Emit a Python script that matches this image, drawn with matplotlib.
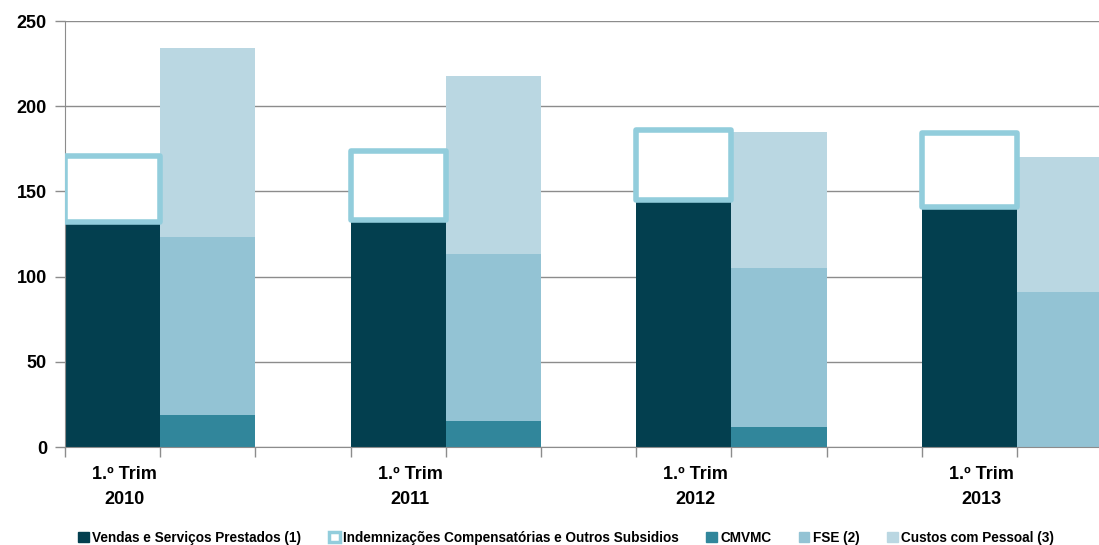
import numpy as np
import matplotlib
matplotlib.use('Agg')
import matplotlib.pyplot as plt
from matplotlib.patches import Patch
from matplotlib.transforms import blended_transform_factory

plt.rcParams['font.family'] = ['Liberation Sans Narrow', 'Liberation Sans', 'DejaVu Sans']
plt.rcParams['font.weight'] = 'bold'

trimestres = ['1.º Trim\n2010', '1.º Trim\n2011', '1.º Trim\n2012', '1.º Trim\n2013']
vendas = [132, 133, 145, 141]
indemnizacoes = [39, 41, 41, 43]
cmvmc = [19, 15, 12, 0]
fse = [104, 98, 93, 91]
pessoal = [111, 105, 80, 79]

c_vendas = '#033f4f'
c_indem = '#92cddc'
c_cmvmc = '#31869b'
c_fse = '#93c3d4'
c_pessoal = '#bad7e2'

fig = plt.figure(figsize=(10.99, 5.45), dpi=100)
W, H = 1099.0, 545.0
ax = fig.add_axes([65 / W, 98 / H, (W - 65) / W, 426 / H])

n = len(trimestres)
x1 = np.arange(n) * 3 + 0.5   # primeira coluna de cada trimestre
x2 = x1 + 1                    # segunda coluna (custos)

ax.bar(x1, vendas, width=1.0, color=c_vendas, zorder=2)
ax.bar(x2, cmvmc, width=1.0, color=c_cmvmc, zorder=2)
ax.bar(x2, fse, width=1.0, bottom=cmvmc, color=c_fse, zorder=2)
base = np.array(cmvmc) + np.array(fse)
ax.bar(x2, pessoal, width=1.0, bottom=base, color=c_pessoal, zorder=2)
ax.bar(x1, indemnizacoes, width=1.0, bottom=vendas, facecolor='white',
       edgecolor=c_indem, linewidth=4.0, joinstyle='round', zorder=3)

ax.set_xticks(np.arange(0, 12))
ax.set_xticklabels([])
ax.set_xlim(0, (W - 65) / 95.2)
ax.set_ylim(0, 250)
ax.set_yticks(np.arange(0, 251, 50))
ax.yaxis.grid(True, color='#8c8c8c', linewidth=1.0, zorder=0)
ax.set_axisbelow(True)

ax.tick_params(axis='x', length=7, color='#8c8c8c', width=1)
ax.tick_params(axis='y', length=7, color='#8c8c8c', width=1, labelsize=13, pad=6)
for lab in ax.get_yticklabels():
    lab.set_fontweight('bold')

for s in ['top', 'right']:
    ax.spines[s].set_visible(False)
ax.spines['left'].set_color('#8c8c8c')
ax.spines['bottom'].set_color('#8c8c8c')

trans = blended_transform_factory(ax.transData, ax.transAxes)
for i, t in enumerate(trimestres):
    ax.text(x1[i] + 0.125, -0.045, t, transform=trans, ha='center', va='top',
            fontsize=13, fontweight='bold', linespacing=1.6)

handles = [
    Patch(facecolor=c_vendas, edgecolor=c_vendas),
    Patch(facecolor='white', edgecolor=c_indem, linewidth=2.5),
    Patch(facecolor=c_cmvmc, edgecolor=c_cmvmc),
    Patch(facecolor=c_fse, edgecolor=c_fse),
    Patch(facecolor=c_pessoal, edgecolor=c_pessoal),
]
labels = ['Vendas e Serviços Prestados (1)',
          'Indemnizações Compensatórias e Outros Subsidios',
          'CMVMC', 'FSE (2)', 'Custos com Pessoal (3)']
leg = fig.legend(handles, labels, loc='lower center', bbox_to_anchor=(0.515, -0.022),
                 ncol=5, frameon=False, handlelength=0.8, handleheight=0.8,
                 handletextpad=0.25, columnspacing=2.0,
                 prop={'size': 9.8, 'weight': 'bold'})

fig.savefig('out.png', dpi=100)
